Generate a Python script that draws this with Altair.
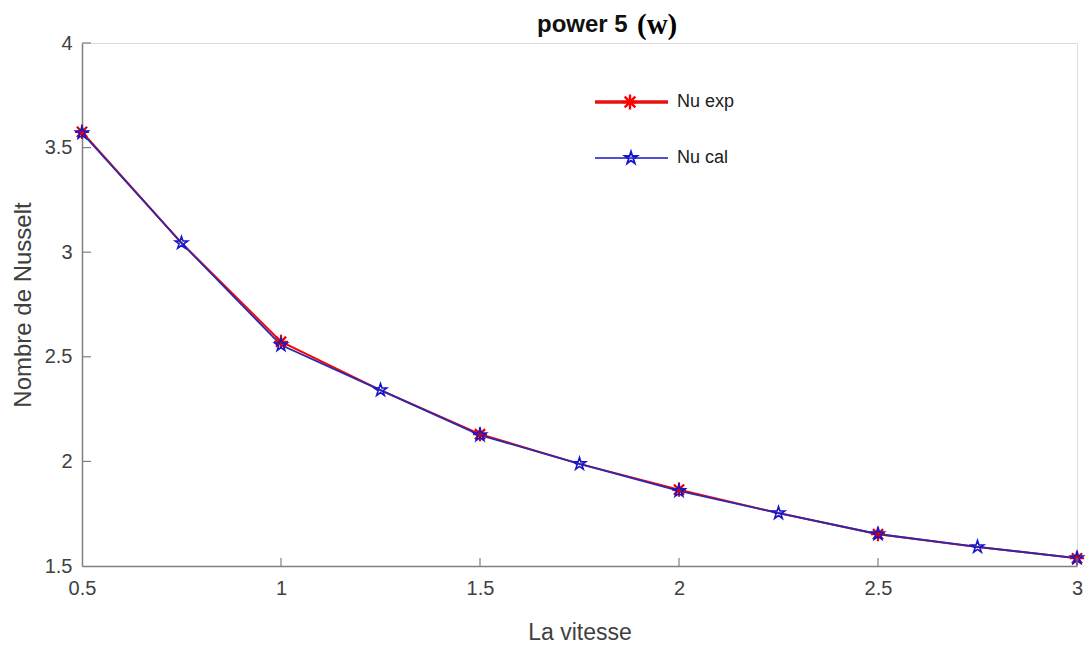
import altair as alt
import pandas as pd

# data
x_cal = [0.5, 0.75, 1.0, 1.25, 1.5, 1.75, 2.0, 2.25, 2.5, 2.75, 3.0]
nu_cal = [3.57, 3.044, 2.556, 2.341, 2.126, 1.988, 1.859, 1.753, 1.653, 1.591, 1.538]
x_exp = [0.5, 1.0, 1.5, 2.0, 2.5, 3.0]
nu_exp = [3.575, 2.572, 2.13, 1.865, 1.652, 1.537]
# red line path (hidden under the blue one between the measured points)
x_exp_line = [0.5, 0.75, 1.0, 1.25, 1.5, 1.75, 2.0, 2.25, 2.5, 2.75, 3.0]
nu_exp_line = [3.575, 3.044, 2.572, 2.341, 2.13, 1.988, 1.865, 1.753, 1.652, 1.591, 1.537]
x_ticks = [0.5, 1, 1.5, 2, 2.5, 3]
y_ticks = [1.5, 2, 2.5, 3, 3.5, 4]

W, H = 995, 523
FONT = "Liberation Sans"
AX = "#808080"
LBL = "#404040"

ASTER = "M-1,0L1,0M0,-1L0,1M-0.72,-0.72L0.72,0.72M-0.72,0.72L0.72,-0.72"
STAR = ("M0,-1L0.225,-0.31L0.95,-0.31L0.363,0.118L0.588,0.809L0,0.382"
        "L-0.588,0.809L-0.363,0.118L-0.95,-0.31L-0.225,-0.31Z")

df_cal = pd.DataFrame({"x": x_cal, "y": nu_cal})
df_exp = pd.DataFrame({"x": x_exp, "y": nu_exp})
df_exp_line = pd.DataFrame({"x": x_exp_line, "y": nu_exp_line})

xs = alt.Scale(domain=[0.5, 3], nice=False, zero=False)
ys = alt.Scale(domain=[1.5, 4], nice=False, zero=False)

x_axis = alt.Axis(values=x_ticks, title="La vitesse", tickSize=0, domainColor=AX,
                  domainWidth=1.5, labelFont=FONT, labelFontSize=20, labelColor=LBL,
                  labelPadding=12, titleFont=FONT, titleFontSize=23, titleFontWeight="normal",
                  titleColor=LBL, titlePadding=23, grid=False, labelFlush=False,
                  format="~g")
y_axis = alt.Axis(values=y_ticks, title="Nombre de Nusselt", tickSize=0, domainColor=AX,
                  domainWidth=1.5, labelFont=FONT, labelFontSize=20, labelColor=LBL,
                  labelPadding=10, titleFont=FONT, titleFontSize=24, titleFontWeight="normal",
                  titleColor=LBL, titlePadding=9, grid=False, labelFlush=False,
                  format="~g")

base_axes = alt.Chart(df_cal).mark_point(opacity=0).encode(
    x=alt.X("x:Q", scale=xs, axis=x_axis),
    y=alt.Y("y:Q", scale=ys, axis=y_axis),
)

# inward ticks
xt = alt.Chart(pd.DataFrame({"v": x_ticks[1:]})).mark_rule(color=AX, strokeWidth=1.2).encode(
    x=alt.X("v:Q", scale=xs), y=alt.value(H), y2=alt.value(H - 8))
yt = alt.Chart(pd.DataFrame({"v": y_ticks[1:]})).mark_rule(color=AX, strokeWidth=1.2).encode(
    y=alt.Y("v:Q", scale=ys), x=alt.value(0), x2=alt.value(9))

exp_line = alt.Chart(df_exp_line).mark_line(color="#ff0000", strokeWidth=2).encode(
    x=alt.X("x:Q", scale=xs), y=alt.Y("y:Q", scale=ys))
exp_pts = alt.Chart(df_exp).mark_point(shape=ASTER, color="#e00000", size=200,
                                       strokeWidth=2.2, filled=False, opacity=1).encode(
    x=alt.X("x:Q", scale=xs), y=alt.Y("y:Q", scale=ys))
cal_line = alt.Chart(df_cal).mark_line(color="#2a2ab0", strokeWidth=1.8).encode(
    x=alt.X("x:Q", scale=xs), y=alt.Y("y:Q", scale=ys))
cal_pts = alt.Chart(df_cal).mark_point(shape=STAR, color="#1515d0", size=170,
                                       strokeWidth=1.6, filled=False, opacity=1).encode(
    x=alt.X("x:Q", scale=xs), y=alt.Y("y:Q", scale=ys))

# legend
lx0, lx1 = 595 - 82, 668 - 82
ly1, ly2 = 102 - 43, 158 - 43
leg_df = pd.DataFrame({"a": [0]})
leg = alt.layer(
    alt.Chart(leg_df).mark_rule(color="#e81010", strokeWidth=3.5).encode(
        x=alt.value(lx0), x2=alt.value(lx1), y=alt.value(ly1)),
    alt.Chart(leg_df).mark_point(shape=ASTER, color="#ff0000", size=220, strokeWidth=2.4,
                                 filled=False, opacity=1).encode(
        x=alt.value(630 - 82), y=alt.value(ly1)),
    alt.Chart(leg_df).mark_text(text="Nu exp", font=FONT, fontSize=18, align="left",
                                baseline="middle", color="#202020").encode(
        x=alt.value(677 - 82), y=alt.value(ly1)),
    alt.Chart(leg_df).mark_rule(color="#5050d0", strokeWidth=2).encode(
        x=alt.value(lx0), x2=alt.value(lx1), y=alt.value(ly2)),
    alt.Chart(leg_df).mark_point(shape=STAR, color="#1515d0", size=170, strokeWidth=1.8,
                                 filled=False, opacity=1).encode(
        x=alt.value(631 - 82), y=alt.value(ly2)),
    alt.Chart(leg_df).mark_text(text="Nu cal", font=FONT, fontSize=18, align="left",
                                baseline="middle", color="#202020").encode(
        x=alt.value(677 - 82), y=alt.value(ly2)),
)

# title
title = alt.layer(
    alt.Chart(leg_df).mark_text(text="power 5", font=FONT, fontSize=24, fontWeight="bold",
                                align="left", baseline="middle", color="#111111").encode(
        x=alt.value(537 - 82), y=alt.value(25 - 43)),
    alt.Chart(leg_df).mark_text(text="(w)", font="Liberation Serif", fontSize=29,
                                fontWeight="bold", align="left", baseline="middle",
                                color="#000000").encode(
        x=alt.value(637 - 82), y=alt.value(25 - 43)),
)

chart = alt.layer(base_axes, exp_line, cal_line, exp_pts, cal_pts, xt, yt, leg, title).properties(
    width=W, height=H,
    autosize=alt.AutoSizeParams(type="none"),
    padding={"left": 82, "top": 43, "right": 12, "bottom": 85},
).configure_view(stroke=None).configure(background="white")

chart.save("out.html", embed_options={"renderer": "svg", "actions": False})
